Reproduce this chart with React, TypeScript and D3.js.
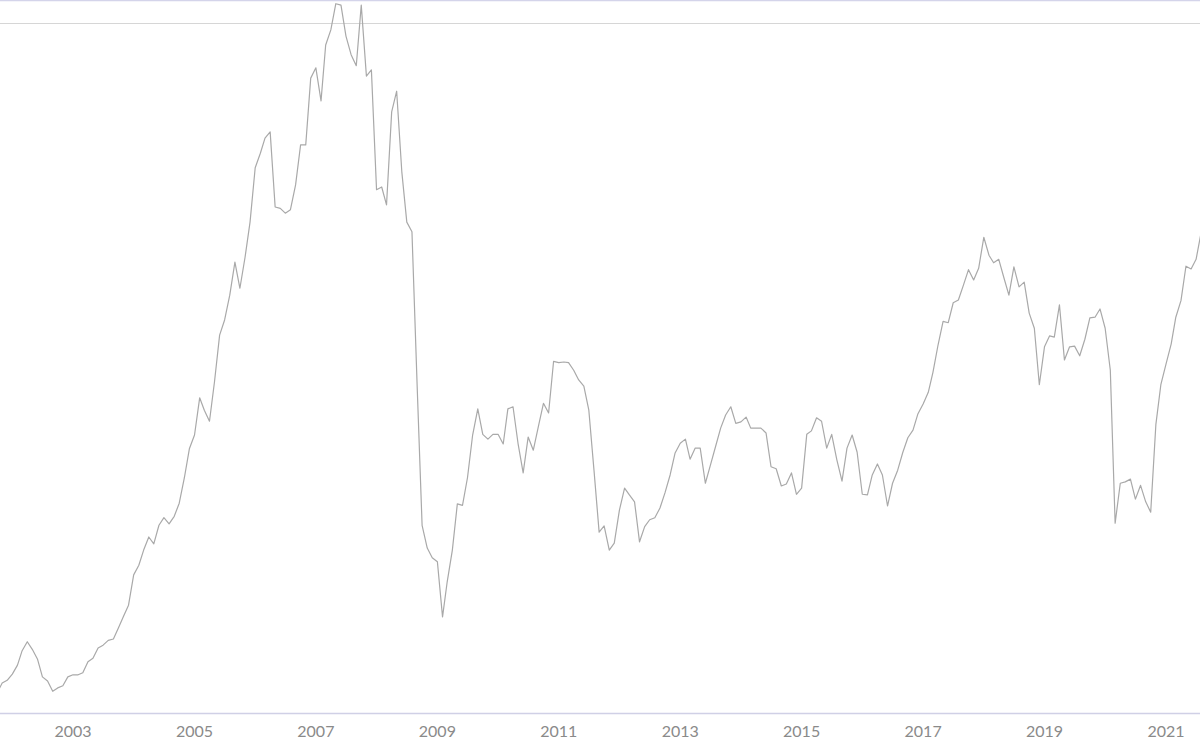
import React from "react";
import * as d3 from "d3";

// Monthly series, starting October 2001 (index value on an arbitrary scale; 100 = reference gridline)
const START_YEAR = 2001;
const START_MONTH = 9; // October (0-based)
const seriesValues: number[] = [
  2.8, 4.2, 4.6,
  5.5, 6.8, 8.9, 10.2, 9.1, 7.7, 5.1, 4.5, 3.0, 3.5, 3.8, 5.1,
  5.4, 5.4, 5.7, 7.3, 7.8, 9.3, 9.7, 10.4, 10.6, 12.2, 13.9, 15.5,
  19.9, 21.3, 23.5, 25.4, 24.4, 27.1, 28.2, 27.3, 28.4, 30.3, 34.0, 38.2,
  40.2, 45.6, 43.8, 42.2, 47.9, 54.7, 56.9, 60.5, 65.3, 61.5, 66.0, 71.1,
  79.0, 81.1, 83.3, 84.2, 73.3, 73.1, 72.4, 72.9, 76.5, 82.3, 82.3, 92.0,
  93.5, 88.7, 96.8, 99.0, 102.8, 102.6, 98.1, 95.4, 93.8, 102.6, 92.3, 93.2,
  75.8, 76.2, 73.6, 87.1, 90.1, 78.4, 71.1, 69.7, 47.5, 27.1, 23.8, 22.4,
  21.8, 13.8, 18.9, 23.5, 30.2, 30.0, 34.0, 40.2, 44.0, 40.3, 39.6, 40.3,
  40.3, 38.9, 44.0, 44.3, 39.0, 34.7, 39.9, 38.0, 41.5, 44.8, 43.4, 50.9,
  50.7, 50.8, 50.7, 49.6, 48.2, 47.3, 43.8, 35.1, 26.1, 27.0, 23.5, 24.5,
  29.3, 32.5, 31.5, 30.5, 24.7, 26.9, 27.9, 28.2, 29.6, 31.8, 34.4, 37.6,
  39.0, 39.6, 36.7, 38.3, 38.3, 33.2, 35.8, 38.5, 41.2, 43.1, 44.3, 41.9,
  42.1, 42.8, 41.2, 41.2, 41.2, 40.5, 35.6, 35.3, 32.8, 33.1, 34.7, 31.6,
  32.5, 40.3, 40.8, 42.7, 42.2, 38.3, 40.3, 36.6, 33.5, 38.3, 40.2, 37.7,
  31.6, 31.5, 34.4, 36.0, 34.4, 29.9, 33.2, 35.1, 37.7, 39.8, 40.9, 43.3,
  44.7, 46.4, 49.3, 53.3, 56.7, 56.5, 59.4, 59.8, 62.0, 64.2, 62.7, 64.4,
  68.9, 66.3, 65.2, 65.7, 63.1, 60.5, 64.6, 61.7, 62.4, 57.9, 55.7, 47.5,
  53.0, 54.6, 54.4, 59.1, 51.1, 53.0, 53.1, 51.7, 54.1, 57.2, 57.3, 58.5,
  55.7, 49.6, 27.4, 33.2, 33.4, 33.8, 30.9, 32.9, 30.5, 29.0, 41.7, 47.5,
  50.5, 53.4, 57.3, 59.7, 64.7, 64.3, 65.7, 69.7,
];

const tickYears: number[] = [2003, 2005, 2007, 2009, 2011, 2013, 2015, 2017, 2019, 2021];
const gridValues: number[] = [100];

const W = 1200;
const H = 750;

export default function App() {
  const data = seriesValues.map((v, i) => ({
    date: new Date(Date.UTC(START_YEAR, START_MONTH + i, 1)),
    value: v,
  }));

  const x = d3
    .scaleUtc()
    .domain([new Date(Date.UTC(2003, 0, 1)), new Date(Date.UTC(2021, 0, 1))])
    .range([73, 1166]);
  const y = d3.scaleLinear().domain([0, 100]).range([712, 23]);

  const line = d3
    .line<{ date: Date; value: number }>()
    .x((d) => x(d.date))
    .y((d) => y(d.value));

  const axisY = 713.5;

  return (
    <svg
      width={W}
      height={H}
      style={{ position: "absolute", left: 0, top: 0, background: "#fff" }}
      fontFamily="Lato, 'Open Sans', sans-serif"
    >
      <rect x={0} y={0} width={W} height={H} fill="#fff" />
      <line x1={0} x2={W} y1={0.5} y2={0.5} stroke="#d4d4ea" strokeWidth={1.5} />
      {gridValues.map((g) => (
        <line key={g} x1={0} x2={W} y1={y(g) + 0.5} y2={y(g) + 0.5} stroke="#d6d6d6" strokeWidth={1} />
      ))}
      <path d={line(data) || ""} fill="none" stroke="#a9a9a9" strokeWidth={1.2} strokeLinejoin="round" />
      <line x1={0} x2={W} y1={axisY} y2={axisY} stroke="#d0d0e6" strokeWidth={1.5} />
      {tickYears.map((t) => (
        <text
          key={t}
          x={x(new Date(Date.UTC(t, 0, 1)))}
          y={737}
          textAnchor="middle"
          fontSize={16}
          fill="#8a8a8a"
        >
          {t}
        </text>
      ))}
    </svg>
  );
}
